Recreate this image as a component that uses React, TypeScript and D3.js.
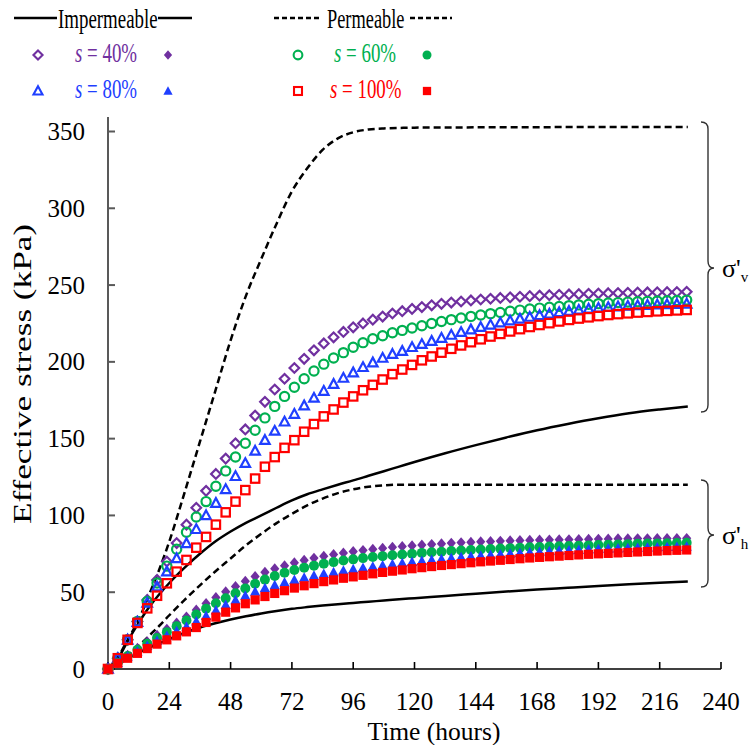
import React from 'react';
import * as d3 from 'd3';

// time (hours) of each marker sample
const times = [0, 3.84, 7.68, 11.52, 15.36, 19.2, 23.04, 26.88, 30.72, 34.56, 38.4, 42.24, 46.08, 49.92, 53.76, 57.6, 61.44, 65.28, 69.12, 72.96, 76.8, 80.64, 84.48, 88.32, 92.16, 96, 99.84, 103.68, 107.52, 111.36, 115.2, 119.04, 122.88, 126.72, 130.56, 134.4, 138.24, 142.08, 145.92, 149.76, 153.6, 157.44, 161.28, 165.12, 168.96, 172.8, 176.64, 180.48, 184.32, 188.16, 192, 195.84, 199.68, 203.52, 207.36, 211.2, 215.04, 218.88, 222.72, 226.56];

// vertical effective stress (open markers)
const vS40 = [0, 7, 19, 31, 45, 58, 70, 82, 94, 105, 116, 127, 137, 147, 156, 165, 174, 182, 189, 196, 202, 207.5, 212, 216, 219.5, 222.5, 225, 227.5, 229.5, 231.5, 233, 234.5, 235.7, 236.8, 237.8, 238.6, 239.3, 240, 240.6, 241.1, 241.6, 242, 242.4, 242.8, 243.1, 243.4, 243.7, 243.9, 244.1, 244.3, 244.5, 244.7, 244.8, 245, 245.1, 245.2, 245.3, 245.4, 245.5, 245.6];
const vS60 = [0, 7, 19, 31, 44, 56, 67, 78, 89, 99, 109, 119, 129, 138, 147, 155.5, 163.5, 171, 177.5, 183.5, 189, 194, 198.5, 202.5, 206, 209.5, 212.5, 215, 217, 219, 220.5, 222, 223.5, 225, 226.3, 227.5, 228.6, 229.6, 230.5, 231.4, 232.2, 233, 233.7, 234.4, 235, 235.6, 236.1, 236.6, 237.1, 237.5, 237.9, 238.3, 238.6, 238.9, 239.2, 239.4, 239.6, 239.8, 240, 240.2];
const vS80 = [0, 7, 19, 30.5, 43, 53.6, 63.4, 72, 81.8, 91, 100, 108, 117, 125.5, 134, 142, 149, 155, 161, 166, 171.5, 176.5, 181, 185.5, 189.5, 193, 196.5, 199.5, 202.5, 205, 207, 209.5, 211.5, 213.5, 215.5, 217.5, 219.3, 221, 222.6, 224.1, 225.5, 226.8, 228, 229.2, 230.3, 231.3, 232.2, 233, 233.8, 234.5, 235.1, 235.6, 236, 236.4, 236.7, 237, 237.2, 237.4, 237.6, 237.8];
const vS100 = [0, 7, 19, 30, 39.5, 47.7, 55.8, 63.4, 71, 79, 86, 94, 102, 109, 116.5, 124, 131.7, 138, 144, 149, 154.5, 159.5, 164.5, 169, 173.5, 177.5, 181.5, 185, 188.5, 192, 195, 198, 201, 203.5, 206, 208.5, 210.7, 212.8, 214.7, 216.5, 218.2, 219.8, 221.3, 222.7, 224, 225.2, 226.3, 227.3, 228.2, 229, 229.8, 230.5, 231.1, 231.6, 232.1, 232.5, 232.9, 233.2, 233.5, 233.8];

// horizontal effective stress (filled markers)
const hS40 = [0, 4.2, 9, 13.5, 17.8, 22, 26, 30, 34, 38.5, 42.7, 46.6, 50.3, 53.8, 57.2, 60.3, 63, 65.3, 67.3, 69.2, 70.8, 72.2, 73.5, 74.6, 75.6, 76.5, 77.3, 78, 78.7, 79.3, 79.8, 80.3, 80.8, 81.2, 81.6, 82, 82.3, 82.6, 82.9, 83.1, 83.3, 83.5, 83.7, 83.9, 84, 84.1, 84.2, 84.3, 84.4, 84.5, 84.6, 84.7, 84.8, 84.8, 84.9, 84.9, 85, 85, 85, 85.1];
const hS60 = [0, 4, 8.5, 12.5, 16.5, 20.2, 24, 27.8, 31.6, 35.5, 39.3, 42.8, 46, 49.3, 52.5, 55.5, 58.2, 60.6, 62.7, 64.5, 66, 67.3, 68.5, 69.6, 70.6, 71.4, 72.2, 72.9, 73.5, 74.1, 74.6, 75.1, 75.6, 76, 76.4, 76.8, 77.2, 77.5, 77.8, 78.1, 78.4, 78.7, 79, 79.3, 79.5, 79.7, 79.9, 80.1, 80.3, 80.5, 80.7, 80.9, 81.1, 81.3, 81.5, 81.7, 81.8, 81.9, 82, 82.2];
const hS80 = [0, 4, 8, 11.5, 15, 18.3, 21.5, 24.6, 27.6, 31, 34.6, 38.2, 41.7, 44.8, 47.7, 50.3, 52.7, 54.6, 56.4, 58, 59.5, 60.8, 62, 63.1, 64.1, 65, 65.9, 66.7, 67.5, 68.3, 69, 69.7, 70.4, 71, 71.6, 72.2, 72.8, 73.3, 73.8, 74.3, 74.7, 75.1, 75.5, 75.9, 76.3, 76.7, 77, 77.3, 77.6, 77.9, 78.1, 78.3, 78.5, 78.7, 78.9, 79.1, 79.2, 79.4, 79.5, 79.6];
const hS100 = [0, 3.7, 7, 10.2, 13.3, 16.2, 19, 21.6, 24.2, 27, 30.3, 33.8, 37, 39.8, 42.5, 45, 47.2, 49.2, 51, 52.7, 54.2, 55.6, 56.9, 58, 59.1, 60, 61, 62, 62.9, 63.7, 64.5, 65.3, 66, 66.7, 67.4, 68, 68.6, 69.2, 69.8, 70.3, 70.8, 71.3, 71.8, 72.3, 72.7, 73.1, 73.5, 73.9, 74.3, 74.7, 75, 75.3, 75.6, 75.9, 76.2, 76.5, 76.8, 77.1, 77.3, 77.5];

// curve times and values
const lineTimes = [0, 4, 8, 12, 16, 20, 24, 30, 36, 42, 48, 54, 60, 66, 72, 78, 84, 90, 96, 102, 108, 114, 120, 132, 144, 156, 168, 180, 192, 204, 216, 227];
const impV = [0, 7, 19, 30, 40, 48.5, 56, 66, 75, 83, 89.5, 95.2, 100, 105, 109.8, 113.8, 117, 120, 122.8, 125.8, 128.8, 131.8, 134.8, 140.5, 145.8, 150.8, 155.5, 159.6, 163.3, 166.5, 169, 171];
const permV = [0, 8, 20, 32, 48, 64.5, 83, 115, 148, 181, 214, 243, 267, 290, 311, 326, 338, 345.5, 349.5, 351.3, 352, 352.3, 352.5, 352.6, 352.7, 352.8, 352.8, 352.9, 352.9, 353, 353, 353];
const impH = [0, 3.7, 7.2, 10.5, 13.7, 16.7, 19.5, 23.5, 27, 29.8, 32.2, 34.3, 36.2, 37.8, 39.2, 40.3, 41.3, 42.2, 43, 43.8, 44.6, 45.4, 46.1, 47.6, 49, 50.4, 51.7, 52.9, 54.1, 55.2, 56.2, 57];
const permH = [0, 3.5, 9, 15, 21.5, 28, 35, 45, 54.5, 63.5, 72, 80.5, 88, 95, 101, 106.5, 111, 114.5, 117, 118.7, 119.6, 120, 120, 120, 120, 120, 120, 120, 120, 120, 120, 120];

const xTicks = [0, 24, 48, 72, 96, 120, 144, 168, 192, 216, 240];
const yTicks = [0, 50, 100, 150, 200, 250, 300, 350];
const legendLabels = ['40%', '60%', '80%', '100%'];

const PURPLE = '#7030A0';
const GREEN = '#00B050';
const BLUE = '#1F3FFF';
const RED = '#FF0000';
const FONT = '"Liberation Serif", "Times New Roman", serif';

const x = d3.scaleLinear().domain([0, 240]).range([108, 721]);
const y = d3.scaleLinear().domain([0, 350]).range([669, 131.5]);

type Shape = 'diamond' | 'circle' | 'triangle' | 'square';

function Marker({ shape, cx, cy, filled, color, s = 1 }: { shape: Shape; cx: number; cy: number; filled: boolean; color: string; s?: number }) {
  const fill = filled ? color : 'none';
  const stroke = filled ? 'none' : color;
  const sw = 2.2 * s;
  if (shape === 'circle') {
    const r = (filled ? 5 : 4.6) * s;
    return <circle cx={cx} cy={cy} r={r} fill={fill} stroke={stroke} strokeWidth={sw} />;
  }
  if (shape === 'square') {
    const h = (filled ? 4.6 : 4.2) * s;
    return <rect x={cx - h} y={cy - h} width={2 * h} height={2 * h} fill={fill} stroke={stroke} strokeWidth={sw} />;
  }
  if (shape === 'diamond') {
    const rx = (filled ? 4.6 : 4.8) * s;
    const ry = (filled ? 5.4 : 4.8) * s;
    const d = `M${cx},${cy - ry}L${cx + rx},${cy}L${cx},${cy + ry}L${cx - rx},${cy}Z`;
    return <path d={d} fill={fill} stroke={stroke} strokeWidth={sw} />;
  }
  const r = (filled ? 5.4 : 5) * s;
  const d = `M${cx},${cy - r}L${cx + r * 0.95},${cy + r * 0.75}L${cx - r * 0.95},${cy + r * 0.75}Z`;
  return <path d={d} fill={fill} stroke={stroke} strokeWidth={sw} strokeLinejoin="miter" />;
}

const series: { vals: number[]; shape: Shape; color: string; filled: boolean }[] = [
  { vals: vS40, shape: 'diamond', color: PURPLE, filled: false },
  { vals: vS60, shape: 'circle', color: GREEN, filled: false },
  { vals: vS80, shape: 'triangle', color: BLUE, filled: false },
  { vals: vS100, shape: 'square', color: RED, filled: false },
  { vals: hS40, shape: 'diamond', color: PURPLE, filled: true },
  { vals: hS60, shape: 'circle', color: GREEN, filled: true },
  { vals: hS80, shape: 'triangle', color: BLUE, filled: true },
  { vals: hS100, shape: 'square', color: RED, filled: true },
];

const curves = [
  { vals: impV, dash: null },
  { vals: permV, dash: '7,4' },
  { vals: impH, dash: null },
  { vals: permH, dash: '7,4' },
];

const lineGen = d3
  .line<number>()
  .x((_, i) => x(lineTimes[i]))
  .y((d) => y(d))
  .curve(d3.curveMonotoneX);

function brace(xl: number, xs: number, xt: number, y1: number, ym: number, y2: number) {
  return `M${xl},${y1} Q${xs},${y1} ${xs},${y1 + 7} L${xs},${ym - 7} Q${xs},${ym} ${xt},${ym} Q${xs},${ym} ${xs},${ym + 7} L${xs},${y2 - 7} Q${xs},${y2} ${xl},${y2}`;
}

export default function App() {
  const legendRows: { shape: Shape; color: string; label: string; x0: number; tx: number; x1: number; yy: number; ty: number }[] = [
    { shape: 'diamond', color: PURPLE, label: legendLabels[0], x0: 38, tx: 75, x1: 168, yy: 55, ty: 62 },
    { shape: 'circle', color: GREEN, label: legendLabels[1], x0: 298, tx: 334, x1: 427, yy: 55, ty: 62 },
    { shape: 'triangle', color: BLUE, label: legendLabels[2], x0: 38, tx: 75, x1: 168, yy: 91, ty: 98 },
    { shape: 'square', color: RED, label: legendLabels[3], x0: 298, tx: 330, x1: 427, yy: 91, ty: 98 },
  ];
  return (
    <svg width={753} height={745} style={{ position: 'absolute', left: 0, top: 0, background: '#fff' }} fontFamily={FONT}>
      <rect x={0} y={0} width={753} height={745} fill="#fff" />
      {/* axes */}
      <line x1={108} y1={669} x2={108} y2={117} stroke="#595959" strokeWidth={2} />
      {yTicks.map((t) => (
        <g key={'y' + t}>
          <line x1={108} x2={115} y1={y(t)} y2={y(t)} stroke="#595959" strokeWidth={2} />
          <text x={85} y={y(t) + 8.5} fontSize={25} textAnchor="end" fill="#000">{t}</text>
        </g>
      ))}
      <line x1={107} y1={669} x2={721} y2={669} stroke="#000" strokeWidth={1.6} />
      {xTicks.map((t) => (
        <g key={'x' + t}>
          <line x1={x(t)} x2={x(t)} y1={669} y2={662} stroke="#000" strokeWidth={1.6} />
          <text x={x(t)} y={710} fontSize={25} textAnchor="middle" fill="#000">{t}</text>
        </g>
      ))}
      <text x={434} y={740} fontSize={25.5} textAnchor="middle">Time (hours)</text>
      <text transform="translate(31,374) rotate(-90)" fontSize={25.5} textAnchor="middle" textLength={300} lengthAdjust="spacingAndGlyphs">Effective stress (kPa)</text>

      {/* curves */}
      {curves.map((c, i) => (
        <path key={'c' + i} d={lineGen(c.vals) || ''} fill="none" stroke="#000" strokeWidth={2.5} strokeDasharray={c.dash || undefined} />
      ))}

      {/* markers */}
      {series.map((s, si) => (
        <g key={'s' + si}>
          {s.vals.map((v, i) => (
            <Marker key={i} shape={s.shape} cx={x(times[i])} cy={y(v)} filled={s.filled} color={s.color} />
          ))}
        </g>
      ))}

      {/* braces */}
      <path d={brace(701, 708, 714, 122, 268, 412)} fill="none" stroke="#333" strokeWidth={1.4} />
      <path d={brace(701, 708, 714, 480, 535, 587)} fill="none" stroke="#333" strokeWidth={1.4} />
      <text x={722} y={277} fontSize={26}>σ'<tspan fontSize={15} dy={5}>v</tspan></text>
      <text x={722} y={544} fontSize={26}>σ'<tspan fontSize={15} dy={5}>h</tspan></text>

      {/* legend */}
      <line x1={14} x2={57} y1={18} y2={18} stroke="#000" strokeWidth={2.6} />
      <text transform="translate(58,28) scale(0.7,1)" fontSize={27}>Impermeable</text>
      <line x1={158} x2={192} y1={18} y2={18} stroke="#000" strokeWidth={2.6} />
      <line x1={274} x2={321} y1={18} y2={18} stroke="#000" strokeWidth={2.6} strokeDasharray="5,3" />
      <text transform="translate(327,28) scale(0.68,1)" fontSize={27}>Permeable</text>
      <line x1={410} x2={452} y1={18} y2={18} stroke="#000" strokeWidth={2.6} strokeDasharray="5,3" />
      {legendRows.map((r, i) => (
        <g key={'l' + i}>
          <Marker shape={r.shape} cx={r.x0} cy={r.yy} filled={false} color={r.color} s={0.95} />
          <text transform={`translate(${r.tx},${r.ty}) scale(0.7,1)`} fontSize={27} fill={r.color}>
            <tspan fontStyle="italic">s</tspan>{' = ' + r.label}
          </text>
          <Marker shape={r.shape} cx={r.x1} cy={r.yy} filled={true} color={r.color} s={0.9} />
        </g>
      ))}
    </svg>
  );
}
